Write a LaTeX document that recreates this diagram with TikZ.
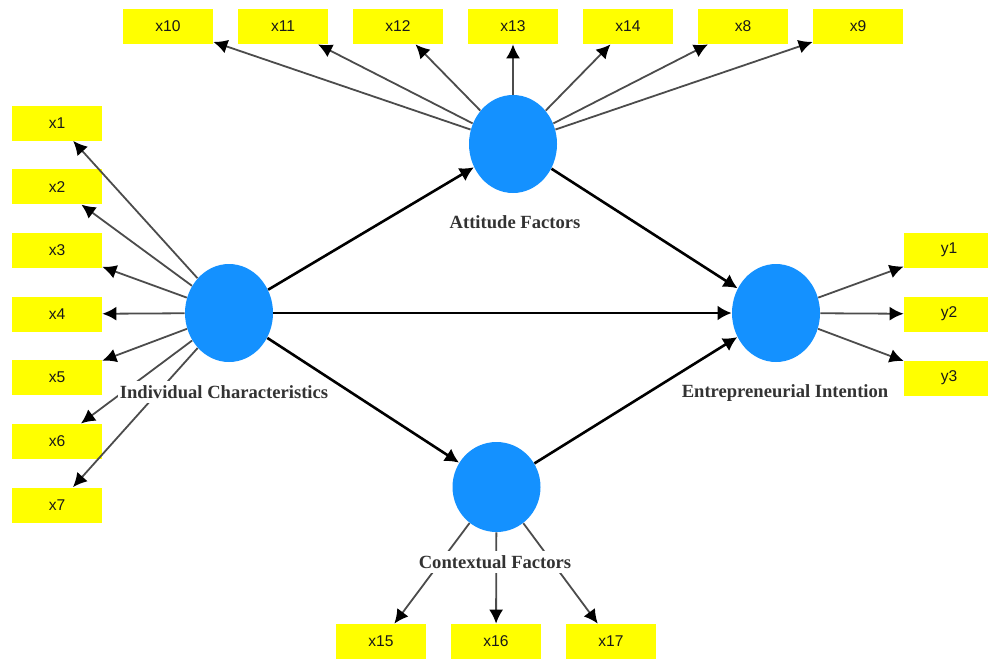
\documentclass[tikz,border=0pt]{standalone}
\usepackage{fontspec}
\setmainfont{Liberation Serif}
\newfontfamily\boxfont{Liberation Sans}
\usetikzlibrary{arrows.meta,shapes.geometric}
\definecolor{lvblue}{RGB}{20,145,255}
\definecolor{indyellow}{RGB}{255,255,0}
\tikzset{
  lv/.style={ellipse, fill=lvblue, minimum width=44pt, minimum height=49pt, inner sep=0pt},
  ind/.style={rectangle, fill=indyellow, minimum width=45pt, minimum height=17.5pt, inner sep=0pt,
    font=\boxfont\fontsize{7.8}{9}\selectfont, text=black!90},
  lvlab/.style={fill=white, inner xsep=1pt, inner ysep=2pt, text=black!80,
    font=\bfseries\fontsize{9.3}{10}\selectfont},
  load/.style={draw=black!70, line width=0.9pt, -{Latex[length=7pt,width=7pt,color=black]}},
  struct/.style={draw=black, line width=1.3pt, -{Latex[length=7pt,width=7.5pt]}}
}
\begin{document}
\begin{tikzpicture}[x=0.5pt, y=-0.5pt, line join=round]
	\useasboundingbox (0,0) rectangle (988,659);
	% latent variables
	\node[lv] (IC) at (229,313) {};
	\node[lv] (AF) at (513,144) {};
	\node[lv] (EI) at (776,313) {};
	\node[lv, minimum height=45pt] (CF) at (496.5,487) {};
	% indicators
	\foreach \n [count=\i from 0] in {1,...,7} \node[ind] (x\n) at (57,123+63.67*\i) {x\n};
	\foreach \n [count=\i from 0] in {10,11,12,13,14,8,9} \node[ind] (x\n) at (168+115*\i,26.5) {x\n};
	\foreach \n [count=\i from 0] in {15,16,17} \node[ind] (x\n) at (381+115*\i,641.5) {x\n};
	\foreach \n [count=\i from 0] in {1,2,3} \node[ind] (y\n) at (949,250+64*\i) {y\n};
	% loadings
	\foreach \n in {1,...,7} \draw[load] (IC) -- (x\n);
	\foreach \n in {8,...,14} \draw[load] (AF) -- (x\n);
	\foreach \n in {15,16,17} \draw[load] (CF) -- (x\n);
	\foreach \n in {1,2,3} \draw[load] (EI) -- (y\n);
	% paths
	\draw[struct] (IC) -- (AF);
	\draw[struct] (IC) -- (EI);
	\draw[struct] (IC) -- (CF);
	\draw[struct] (AF) -- (EI);
	\draw[struct] (CF) -- (EI);
	% names
	\node[lvlab] (ICname) at (224,392) {Individual Characteristics};
	\node[lvlab] (AFname) at (515,222) {Attitude Factors};
	\node[lvlab] (EIname) at (785,393) {Entrepreneurial Intention};
	\node[lvlab] (CFname) at (495,562) {Contextual Factors};
\end{tikzpicture}
\end{document}
